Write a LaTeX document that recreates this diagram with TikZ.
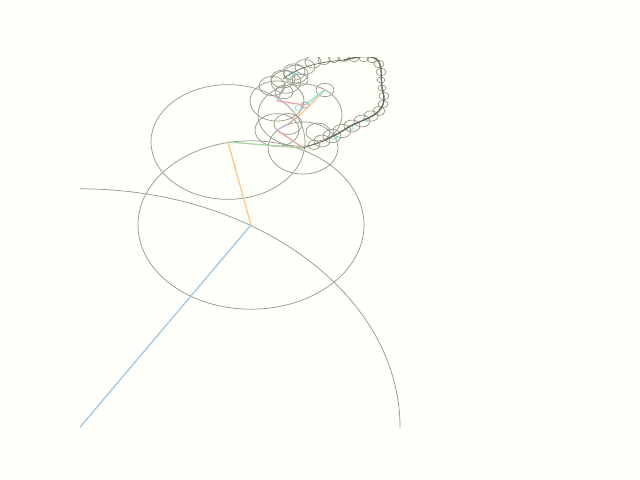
\documentclass[tikz,border=0pt]{standalone}
\usepackage{tikz}

\definecolor{ringgray}{RGB}{150,150,140}
\definecolor{tracegray}{RGB}{105,105,88}
\definecolor{armblue}{RGB}{160,200,225}
\definecolor{armorange}{RGB}{255,196,140}
\definecolor{armgreen}{RGB}{165,215,160}
\definecolor{armred}{RGB}{235,160,170}
\definecolor{armpurple}{RGB}{200,175,220}
\definecolor{armbrown}{RGB}{205,170,160}
\definecolor{armcyan}{RGB}{140,215,225}

\begin{document}
\begin{tikzpicture}[x=0.025cm, y=-0.025cm,
    ring/.style={draw=ringgray, line width=0.5pt},
    arm/.style={line width=0.9pt},
    trace/.style={draw=tracegray, line width=1pt, line join=round}]
    \fill[yellow!2] (0,0) rectangle (640,480);
    \useasboundingbox (0,0) rectangle (640,480);
    \begin{scope}
    \clip (80,57.6) rectangle (576,427.2);
    % joints of the chain
    \coordinate (c0) at (80,427.2);
    \coordinate (c1) at (251,225);
    \coordinate (c2) at (228,142);
    \coordinate (c3) at (303,148);
    \coordinate (c4) at (277,130);
    \coordinate (c5) at (288,124);
    \coordinate (c6) at (300,115);
    \coordinate (c7) at (325,90);
    \coordinate (c8) at (305,105);
    \coordinate (c9) at (277,101);
    \coordinate (c10) at (286,82);
    \coordinate (c11) at (296,74);
    \foreach \c/\r in {c0/320, c1/113, c2/77, c3/35, c4/22, c5/14, c6/42,
        c7/9, c8/4, c9/27, c10/15, c11/12}
        \draw[ring] (\c) ellipse [x radius=\r, y radius={0.745*\r}];
    \draw[arm, armblue] (c0) -- (c1);
    \draw[arm, armorange] (c1) -- (c2);
    \draw[arm, armgreen] (c2) -- (c3);
    \draw[arm, armred] (c3) -- (c4);
    \draw[arm, armpurple] (c4) -- (c5);
    \draw[arm, armbrown] (c5) -- (c6);
    \draw[arm, armorange] (c6) -- (c7);
    \draw[arm, armcyan] (c7) -- (c8);
    \draw[arm, armred] (c8) -- (c9);
    \draw[arm, armpurple] (c9) -- (c10);
    \draw[arm, armgreen] (c10) -- (c11);
    % small rings along the loop
    \foreach \x/\y/\r in {272/86/13, 283/79/12, 294/72/11, 305/67/10,
        313/62/8, 324/60/6, 334/59/5, 344/58/5, 354/58/5, 364/58/5,
        372/59/5, 379/64/5, 381/72/5, 381/80/4, 382/88/4, 384/96/5,
        383/104/5, 379/111/6, 371/116/7, 362/121/8, 352/126/8,
        342/131/9, 332/136/9, 322/141/8, 314/145/6, 318/132/12,
        284/92/9, 300/80/8}
        \draw[ring] (\x,\y) ellipse [x radius=\r, y radius={0.745*\r}];
    \foreach \x/\y in {334/137, 350/128, 366/119, 298/108, 292/74}
        \draw[ring, armcyan] (\x,\y) ellipse [x radius=3, y radius=2.3];
    % traced outline
    \draw[trace] (344,60) .. controls (360,56) and (374,54) .. (379,62)
        .. controls (383,70) and (380,82) .. (383,92)
        .. controls (386,102) and (382,110) .. (374,115)
        .. controls (366,120) and (352,124) .. (344,130)
        .. controls (338,134) and (332,136) .. (326,140);
    \draw[tracegray, line width=0.5pt] (326,140) -- (303,148);
    \draw[tracegray, line width=0.5pt] (344,60) .. controls (320,62) and (300,66) .. (283,79);
    \end{scope}
\end{tikzpicture}
\end{document}
